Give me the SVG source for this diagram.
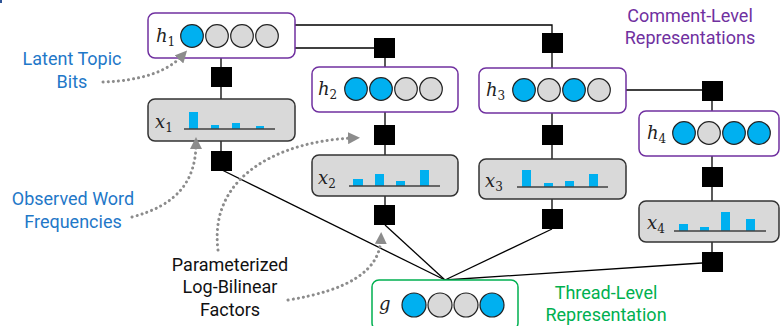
<svg xmlns="http://www.w3.org/2000/svg" width="780" height="326" viewBox="0 0 780 326">
<defs>
<style>
.hbox{fill:#fff;stroke:#7030a0;stroke-width:1.5}
.xbox{fill:#d9d9d9;stroke:#333;stroke-width:1.5}
.gbox{fill:#fff;stroke:#00b050;stroke-width:1.5}
.on{fill:#00b0f0;stroke:#222;stroke-width:1.2}
.off{fill:#d9d9d9;stroke:#222;stroke-width:1.2}
.bar{fill:#00b0f0}
.base{stroke:#404040;stroke-width:1.5}
.fac{fill:#000}
.wire{stroke:#000;stroke-width:1.3;fill:none}
.var{font-family:"DejaVu Serif","Liberation Serif",serif;font-style:italic;font-size:18px;fill:#222}
.sub{font-size:12px;font-style:normal}
.lbl{font-family:Roboto,"Liberation Sans",sans-serif;font-size:18px;text-anchor:middle}
.blue{fill:#1f78c8}
.purple{fill:#7030a0}
.green{fill:#00b050}
.black{fill:#111}
.dots{fill:none;stroke:#8c8c8c;stroke-width:3;stroke-dasharray:0.1 5;stroke-linecap:round}
</style>
<marker id="ah" markerWidth="4" markerHeight="4" refX="2" refY="2" orient="auto" markerUnits="strokeWidth">
<path d="M0,0 L4,2 L0,4 Z" fill="#8c8c8c"/>
</marker>
</defs>
<rect x="0" y="0" width="2" height="3" fill="#2f5597"/>

<g id="connectors">
<polyline class="wire" points="295,25 552,25 552,33"/>
<polyline class="wire" points="295,48 374,48"/>
<line class="wire" x1="385" y1="58" x2="385" y2="67"/>
<line class="wire" x1="221" y1="58" x2="221" y2="67"/>
<line class="wire" x1="221" y1="87" x2="221" y2="99"/>
<line class="wire" x1="221" y1="141" x2="221" y2="151"/>
<line class="wire" x1="385" y1="112" x2="385" y2="125"/>
<line class="wire" x1="385" y1="145" x2="385" y2="155"/>
<line class="wire" x1="385" y1="196" x2="385" y2="205"/>
<line class="wire" x1="552" y1="53" x2="552" y2="68"/>
<line class="wire" x1="552" y1="113" x2="552" y2="125"/>
<line class="wire" x1="552" y1="145" x2="552" y2="159"/>
<line class="wire" x1="552" y1="199" x2="552" y2="209"/>
<line class="wire" x1="626" y1="90" x2="702" y2="90"/>
<line class="wire" x1="712" y1="101" x2="712" y2="111"/>
<line class="wire" x1="712" y1="156" x2="712" y2="167"/>
<line class="wire" x1="712" y1="187" x2="712" y2="201"/>
<line class="wire" x1="712" y1="242" x2="712" y2="252"/>
<line class="wire" x1="222" y1="170" x2="445" y2="280"/>
<line class="wire" x1="385" y1="225" x2="445" y2="280"/>
<line class="wire" x1="552" y1="229" x2="445" y2="280"/>
<line class="wire" x1="702" y1="263" x2="445" y2="280"/>
</g>

<g id="factors">
<rect class="fac" x="211" y="67" width="21" height="20"/>
<rect class="fac" x="211" y="151" width="21" height="20"/>
<rect class="fac" x="374" y="38" width="21" height="20"/>
<rect class="fac" x="374" y="125" width="21" height="20"/>
<rect class="fac" x="374" y="205" width="21" height="20"/>
<rect class="fac" x="542" y="33" width="21" height="20"/>
<rect class="fac" x="542" y="125" width="21" height="20"/>
<rect class="fac" x="542" y="209" width="21" height="20"/>
<rect class="fac" x="702" y="81" width="21" height="20"/>
<rect class="fac" x="702" y="167" width="21" height="20"/>
<rect class="fac" x="702" y="252" width="21" height="20"/>
</g>

<g id="h1">
<rect class="hbox" x="148" y="13" width="147" height="45" rx="7"/>
<text class="var" x="156" y="42">h<tspan class="sub" dy="4">1</tspan></text>
<circle class="on" cx="192" cy="36" r="11.3"/>
<circle class="off" cx="217" cy="36" r="11.3"/>
<circle class="off" cx="242" cy="36" r="11.3"/>
<circle class="off" cx="267" cy="36" r="11.3"/>
</g>

<g id="x1">
<rect class="xbox" x="148" y="99" width="147" height="42" rx="7"/>
<text class="var" x="155" y="128">x<tspan class="sub" dy="4">1</tspan></text>
<rect class="bar" x="189" y="112" width="9" height="17"/>
<rect class="bar" x="211" y="125" width="8" height="4"/>
<rect class="bar" x="232" y="123" width="8" height="6"/>
<rect class="bar" x="256" y="126" width="8" height="3"/>
<line class="base" x1="184" y1="129" x2="275" y2="129"/>
</g>

<g id="h2">
<rect class="hbox" x="312" y="67" width="146" height="45" rx="7"/>
<text class="var" x="318" y="95">h<tspan class="sub" dy="4">2</tspan></text>
<circle class="on" cx="356" cy="89" r="11.3"/>
<circle class="on" cx="381" cy="89" r="11.3"/>
<circle class="off" cx="406" cy="89" r="11.3"/>
<circle class="off" cx="431" cy="89" r="11.3"/>
</g>

<g id="x2">
<rect class="xbox" x="312" y="155" width="146" height="41" rx="7"/>
<text class="var" x="318" y="184">x<tspan class="sub" dy="4">2</tspan></text>
<rect class="bar" x="353" y="179" width="10" height="7"/>
<rect class="bar" x="375" y="174" width="9" height="12"/>
<rect class="bar" x="396" y="181" width="9" height="5"/>
<rect class="bar" x="420" y="170" width="9" height="16"/>
<line class="base" x1="349" y1="186" x2="440" y2="186"/>
</g>

<g id="h3">
<rect class="hbox" x="479" y="68" width="147" height="45" rx="7"/>
<text class="var" x="486" y="96">h<tspan class="sub" dy="4">3</tspan></text>
<circle class="on" cx="524" cy="90" r="11.3"/>
<circle class="off" cx="549" cy="90" r="11.3"/>
<circle class="on" cx="574" cy="90" r="11.3"/>
<circle class="off" cx="599" cy="90" r="11.3"/>
</g>

<g id="x3">
<rect class="xbox" x="479" y="159" width="147" height="40" rx="7"/>
<text class="var" x="485" y="187">x<tspan class="sub" dy="4">3</tspan></text>
<rect class="bar" x="522" y="170" width="9" height="17"/>
<rect class="bar" x="544" y="183" width="9" height="4"/>
<rect class="bar" x="565" y="181" width="9" height="6"/>
<rect class="bar" x="589" y="174" width="9" height="13"/>
<line class="base" x1="517" y1="187" x2="608" y2="187"/>
</g>

<g id="h4">
<rect class="hbox" x="639" y="111" width="140" height="45" rx="7"/>
<text class="var" x="647" y="139">h<tspan class="sub" dy="4">4</tspan></text>
<circle class="on" cx="684" cy="133" r="11.3"/>
<circle class="off" cx="709" cy="133" r="11.3"/>
<circle class="on" cx="734" cy="133" r="11.3"/>
<circle class="on" cx="759" cy="133" r="11.3"/>
</g>

<g id="x4">
<rect class="xbox" x="639" y="201" width="140" height="41" rx="7"/>
<text class="var" x="647" y="229">x<tspan class="sub" dy="4">4</tspan></text>
<rect class="bar" x="679" y="224" width="9" height="7"/>
<rect class="bar" x="700" y="227" width="9" height="4"/>
<rect class="bar" x="721" y="212" width="9" height="19"/>
<rect class="bar" x="746" y="219" width="9" height="12"/>
<line class="base" x1="674" y1="231" x2="766" y2="231"/>
</g>

<g id="g">
<rect class="gbox" x="372" y="280" width="146" height="50" rx="7"/>
<text class="var" x="379" y="310">g</text>
<circle class="on" cx="414" cy="305" r="12"/>
<circle class="off" cx="440" cy="305" r="12"/>
<circle class="off" cx="466" cy="305" r="12"/>
<circle class="on" cx="492" cy="305" r="12"/>
</g>

<g id="annotations">
<path class="dots" d="M103,82 Q160,80 183,55" marker-end="url(#ah)"/>
<path class="dots" d="M132,217 C178,205 196,180 196,143" marker-end="url(#ah)"/>
<path class="dots" d="M218,250 C208,170 290,140 354,138" marker-end="url(#ah)"/>
<path class="dots" d="M288,300 C350,290 380,270 381,238" marker-end="url(#ah)"/>
<text class="lbl blue" x="72" y="65">Latent Topic</text>
<text class="lbl blue" x="72" y="88">Bits</text>
<text class="lbl blue" x="73" y="205">Observed Word</text>
<text class="lbl blue" x="73" y="228">Frequencies</text>
<text class="lbl black" x="230" y="271">Parameterized</text>
<text class="lbl black" x="230" y="293">Log-Bilinear</text>
<text class="lbl black" x="230" y="316">Factors</text>
<text class="lbl purple" x="690" y="22">Comment-Level</text>
<text class="lbl purple" x="690" y="44">Representations</text>
<text class="lbl green" x="606" y="299">Thread-Level</text>
<text class="lbl green" x="606" y="321">Representation</text>
</g>
</svg>
